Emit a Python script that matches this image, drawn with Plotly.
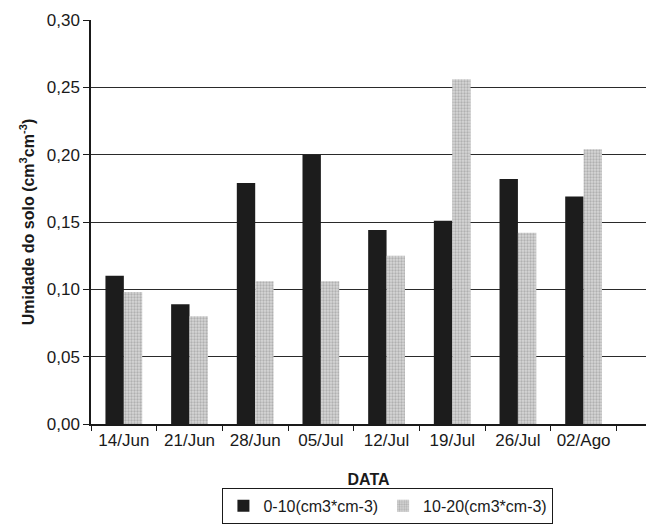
import plotly.graph_objects as go

dates = ["14/Jun", "21/Jun", "28/Jun", "05/Jul", "12/Jul", "19/Jul", "26/Jul", "02/Ago"]
depth_0_10 = [0.110, 0.089, 0.179, 0.200, 0.144, 0.151, 0.182, 0.169]
depth_10_20 = [0.098, 0.080, 0.106, 0.106, 0.125, 0.256, 0.142, 0.204]
y_ticks = [0.0, 0.05, 0.10, 0.15, 0.20, 0.25, 0.30]

fig = go.Figure()
fig.add_trace(go.Bar(
    x=dates, y=depth_0_10, name="0-10(cm3*cm-3)",
    marker=dict(color="#1c1c1c", line=dict(width=0)),
))
fig.add_trace(go.Bar(
    x=dates, y=depth_10_20, name="10-20(cm3*cm-3)",
    marker=dict(color="#bfbfbf", line=dict(width=0),
                pattern=dict(shape=".", fgcolor="#8a8a8a", bgcolor="#d6d6d6", size=3, solidity=0.45)),
))

fig.update_layout(
    width=646, height=524,
    margin=dict(l=91, r=0, t=20, b=100, autoexpand=False),
    paper_bgcolor="white", plot_bgcolor="white",
    font=dict(family="Liberation Sans, Arial, sans-serif", size=17, color="#1a1a1a"),
    separators=",.",
    barmode="group", bargap=0.44, bargroupgap=0.0,
    showlegend=True,
    legend=dict(orientation="h", x=0.535, y=-0.247, xanchor="center", yanchor="bottom",
                bordercolor="#1a1a1a", borderwidth=1, font=dict(size=16),
                itemwidth=30, tracegroupgap=0),
    xaxis=dict(
        title=dict(text="<b>DATA</b>", font=dict(size=16), standoff=25),
        range=[-0.5, 7.95], showgrid=False, automargin=False,
        ticks="outside", tickson="boundaries", ticklen=5, tickcolor="#1a1a1a",
        showline=True, linecolor="#1a1a1a", linewidth=1.5,
        tickfont=dict(size=17),
    ),
    yaxis=dict(
        title=dict(text="<b>Umidade do solo (cm<sup>3</sup>cm<sup>-3</sup>)</b>", font=dict(size=16), standoff=8),
        range=[0, 0.30], tickvals=y_ticks, tickformat=".2f", automargin=False,
        showgrid=True, gridcolor="#2a2a2a", gridwidth=1.2,
        ticks="outside", ticklen=6, tickcolor="#1a1a1a",
        showline=True, linecolor="#1a1a1a", linewidth=1.5, zeroline=False,
        tickfont=dict(size=17),
    ),
)

fig.write_html(
    "out.html",
    config={"displayModeBar": False},
    post_script="document.body.style.margin='0';document.body.style.overflow='hidden';",
)
